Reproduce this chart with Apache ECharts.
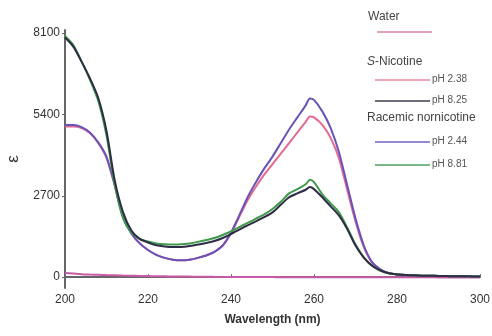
<!DOCTYPE html>
<html><head><meta charset="utf-8">
<script src="https://cdn.jsdelivr.net/npm/echarts@6/dist/echarts.min.js"></script>
<style>html,body{margin:0;padding:0;background:#fff}#c{width:492px;height:336px}</style>
</head><body><div id="c"></div>
<script>
var wavelength = [200,202,204,206,208,210,212,214,216,218,220,222,224,226,228,230,232,234,236,238,240,242,244,246,248,250,252,254,256,258,259,260,262,264,266,268,270,272,274,276,278,280,282,284,286,288,290,292,294,296,298,300];
var water = [140,120,100,88,78,68,60,52,46,40,35,30,27,24,20,18,15,13,10,8,6,5,4,3,2,1,0,0,0,0,0,0,0,0,0,0,0,0,0,0,0,0,0,0,-5,-5,-8,-10,-10,-10,-10,-10];
var sNic238 = [5000,5000,4950,4780,4450,3950,3050,2000,1450,1120,900,740,640,580,560,580,640,720,840,1050,1450,2000,2550,3000,3400,3750,4100,4450,4800,5150,5330,5300,5050,4620,3950,2900,1850,1000,480,250,130,90,70,60,50,45,40,35,30,30,25,20];
var sNic825 = [7950,7650,7150,6600,5950,4850,3200,2150,1550,1270,1150,1060,1020,1000,1000,1030,1080,1130,1200,1300,1430,1580,1720,1850,1990,2150,2400,2650,2780,2900,2990,2920,2650,2350,2050,1600,1050,650,380,220,130,90,70,60,50,45,40,35,30,30,25,20];
var nor244 = [5050,5050,4980,4800,4470,4000,3050,2000,1450,1120,900,740,640,580,560,580,640,720,840,1050,1480,2050,2650,3150,3600,4000,4450,4900,5300,5700,5930,5880,5500,4950,4150,3050,1950,1050,500,260,140,95,75,60,50,45,40,35,30,30,25,20];
var nor881 = [8000,7700,7150,6550,5850,4700,3050,1950,1480,1270,1180,1120,1090,1080,1090,1120,1170,1230,1300,1400,1520,1660,1800,1940,2080,2260,2500,2780,2920,3080,3230,3150,2750,2450,2150,1650,1080,660,380,220,130,90,70,60,50,45,40,35,30,30,25,20];
var yTicks = [0,2700,5400,8100];

function pairs(arr){ return wavelength.map(function(w,i){ return [w, arr[i]]; }); }

var FONT = 'Liberation Sans, Arial, sans-serif';
var C = {water:'#c85aa8', s238:'#e36a90', s825:'#2e2d45', n244:'#6a52b8', n881:'#3f9a4c'};

var chart = echarts.init(document.getElementById('c'), null, {renderer:'canvas'});

function mkLine(name, data, color, z){
  return {name:name, type:'line', data:pairs(data), showSymbol:false, smooth:0.25, z:z,
    lineStyle:{color:color, width:2}, itemStyle:{color:color}};
}

var legendY = {water:32, s238:80, s825:101, n244:142, n881:165};
var graphics = [
  {type:'text', left:368, top:11, style:{text:'Water', font:'12px '+FONT, fill:'#444'}},
  {type:'line', shape:{x1:377, y1:legendY.water, x2:432, y2:legendY.water}, style:{stroke:'#d77fa8', lineWidth:1.5}},
  {type:'text', left:367, top:56, style:{text:'{i|S}-Nicotine', rich:{i:{fontStyle:'italic', font:'italic 12px '+FONT, fill:'#444'}}, font:'12px '+FONT, fill:'#444'}},
  {type:'line', shape:{x1:375, y1:legendY.s238, x2:430, y2:legendY.s238}, style:{stroke:'#e88a9e', lineWidth:1.5}},
  {type:'text', left:432, top:legendY.s238-6, style:{text:'pH 2.38', font:'10px '+FONT, fill:'#555'}},
  {type:'line', shape:{x1:375, y1:legendY.s825, x2:430, y2:legendY.s825}, style:{stroke:'#404052', lineWidth:1.5}},
  {type:'text', left:432, top:legendY.s825-6, style:{text:'pH 8.25', font:'10px '+FONT, fill:'#555'}},
  {type:'text', left:367, top:112, style:{text:'Racemic nornicotine', font:'12px '+FONT, fill:'#444'}},
  {type:'line', shape:{x1:375, y1:legendY.n244, x2:430, y2:legendY.n244}, style:{stroke:'#7060c0', lineWidth:1.5}},
  {type:'text', left:432, top:legendY.n244-6, style:{text:'pH 2.44', font:'10px '+FONT, fill:'#555'}},
  {type:'line', shape:{x1:375, y1:legendY.n881, x2:430, y2:legendY.n881}, style:{stroke:'#4fa060', lineWidth:1.5}},
  {type:'text', left:432, top:legendY.n881-6, style:{text:'pH 8.81', font:'10px '+FONT, fill:'#555'}}
];

chart.setOption({
  animation:false,
  backgroundColor:'#fff',
  grid:{left:65, right:12, top:30, bottom:48, containLabel:false, outerBoundsMode:'none'},
  xAxis:{type:'value', min:200, max:300, interval:20,
    name:'Wavelength (nm)', nameLocation:'middle', nameGap:26,
    nameTextStyle:{fontFamily:FONT, fontSize:12, fontWeight:'bold', color:'#333'},
    axisLine:{lineStyle:{color:'#666', width:2}},
    axisTick:{show:true, inside:true, length:3, lineStyle:{color:'#666'}},
    axisLabel:{fontFamily:FONT, fontSize:12, color:'#333', margin:6},
    splitLine:{show:false}},
  yAxis:{type:'value', min:-360, max:8200,
    name:'ε', nameLocation:'middle', nameGap:43, nameRotate:90,
    nameTextStyle:{fontFamily:FONT, fontSize:17, color:'#333'},
    axisLine:{show:true, lineStyle:{color:'#666', width:2}},
    axisTick:{show:true, inside:false, length:3, customValues:yTicks, lineStyle:{color:'#666'}},
    axisLabel:{fontFamily:FONT, fontSize:12, color:'#333', margin:5, customValues:yTicks,
      formatter:function(v){ return String(v); }},
    splitLine:{show:false}},
  series:[
    mkLine('Water', water, C.water, 1),
    mkLine('S-Nicotine pH 2.38', sNic238, C.s238, 2),
    mkLine('Racemic nornicotine pH 2.44', nor244, C.n244, 3),
    mkLine('Racemic nornicotine pH 8.81', nor881, C.n881, 4),
    mkLine('S-Nicotine pH 8.25', sNic825, C.s825, 5)
  ],
  graphic:graphics
});
</script>
</body></html>
